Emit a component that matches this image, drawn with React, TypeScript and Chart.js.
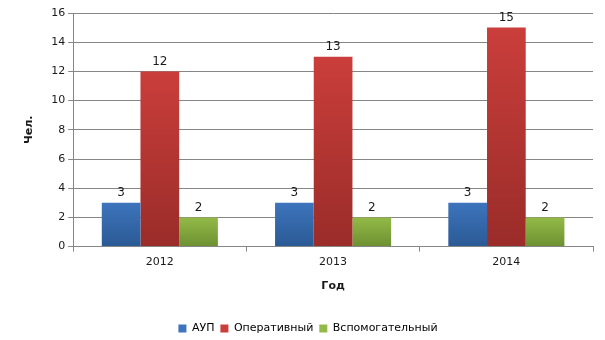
import React, { useEffect, useRef } from "react";
import { Chart, registerables } from "chart.js";

Chart.register(...registerables);

const categories = ["2012", "2013", "2014"];
const seriesNames = ["АУП", "Оперативный", "Вспомогательный"];
const aupValues = [3, 3, 3];
const operValues = [12, 13, 15];
const auxValues = [2, 2, 2];
const yTicks = [0, 2, 4, 6, 8, 10, 12, 14, 16];

const FONT = "'DejaVu Sans', sans-serif";

const gradients: [string, string][] = [
  ["#3D74BC", "#2B5A95"],
  ["#CA3E3B", "#9A2C29"],
  ["#93BA48", "#6C9031"],
];

function makeBg(idx: number) {
  return (ctx: any) => {
    const chart = ctx.chart;
    const [top, bottom] = gradients[idx];
    if (!chart.chartArea || ctx.type !== "data") return top;
    const y = chart.scales.y;
    const v = ctx.parsed ? ctx.parsed.y : ctx.raw;
    const yTop = y.getPixelForValue(v);
    const yBot = y.getPixelForValue(0);
    if (!isFinite(yTop) || !isFinite(yBot) || yTop === yBot) return top;
    const g = chart.ctx.createLinearGradient(0, yTop, 0, yBot);
    g.addColorStop(0, top);
    g.addColorStop(1, bottom);
    return g;
  };
}

const valueLabels = {
  id: "valueLabels",
  afterDatasetsDraw(chart: any) {
    const c = chart.ctx;
    c.save();
    c.font = `12px ${FONT}`;
    c.fillStyle = "#1a1a1a";
    c.textAlign = "center";
    c.textBaseline = "bottom";
    chart.data.datasets.forEach((ds: any, i: number) => {
      const meta = chart.getDatasetMeta(i);
      meta.data.forEach((bar: any, j: number) => {
        c.fillText(String(ds.data[j]), bar.x, bar.y - 4);
      });
    });
    c.restore();
  },
};

export default function App() {
  const ref = useRef<HTMLCanvasElement>(null);
  useEffect(() => {
    document.body.style.margin = "0";
    const seriesData = [aupValues, operValues, auxValues];
    const chart = new Chart(ref.current!, {
      type: "bar",
      data: {
        labels: categories,
        datasets: seriesNames.map((name, i) => ({
          label: name,
          data: seriesData[i],
          backgroundColor: makeBg(i),
          borderWidth: 0,
          categoryPercentage: 0.67,
          barPercentage: 1,
        })),
      },
      options: {
        animation: false,
        responsive: false,
        layout: { padding: { left: 23, right: 12, top: 13, bottom: -4 } },
        plugins: {
          tooltip: { enabled: false },
          legend: {
            position: "bottom",
            labels: {
              font: { family: FONT, size: 11 },
              color: "#1a1a1a",
              boxWidth: 8,
              boxHeight: 8,
              padding: 6,
              generateLabels: (chart: any) =>
                seriesNames.map((n, i) => ({
                  text: n,
                  fillStyle: gradients[i][0],
                  strokeStyle: gradients[i][0],
                  lineWidth: 0,
                  datasetIndex: i,
                  hidden: false,
                })),
            },
          },
        },
        scales: {
          x: {
            grid: {
              drawOnChartArea: false,
              drawTicks: true,
              tickLength: 5,
              color: "#868686",
              offset: true,
            },
            border: { color: "#868686" },
            ticks: { font: { family: FONT, size: 11 }, color: "#1a1a1a", padding: 4 },
            title: {
              display: true,
              text: "Год",
              font: { family: FONT, size: 11, weight: "bold" },
              color: "#1a1a1a",
              padding: { top: 7, bottom: 24 },
            },
          },
          y: {
            min: 0,
            max: 16,
            afterBuildTicks: (scale: any) => {
              scale.ticks = yTicks.map((v) => ({ value: v }));
            },
            grid: { color: "#868686", tickLength: 5 },
            border: { color: "#868686" },
            ticks: { font: { family: FONT, size: 11 }, color: "#1a1a1a", padding: 3 },
            title: {
              display: true,
              text: "Чел.",
              font: { family: FONT, size: 11, weight: "bold" },
              color: "#1a1a1a",
              padding: { top: 0, bottom: 12 },
            },
          },
        },
      },
      plugins: [valueLabels],
    } as any);
    return () => chart.destroy();
  }, []);
  return (
    <div style={{ width: 605, height: 340, background: "#fff" }}>
      <canvas ref={ref} width={605} height={340} />
    </div>
  );
}
